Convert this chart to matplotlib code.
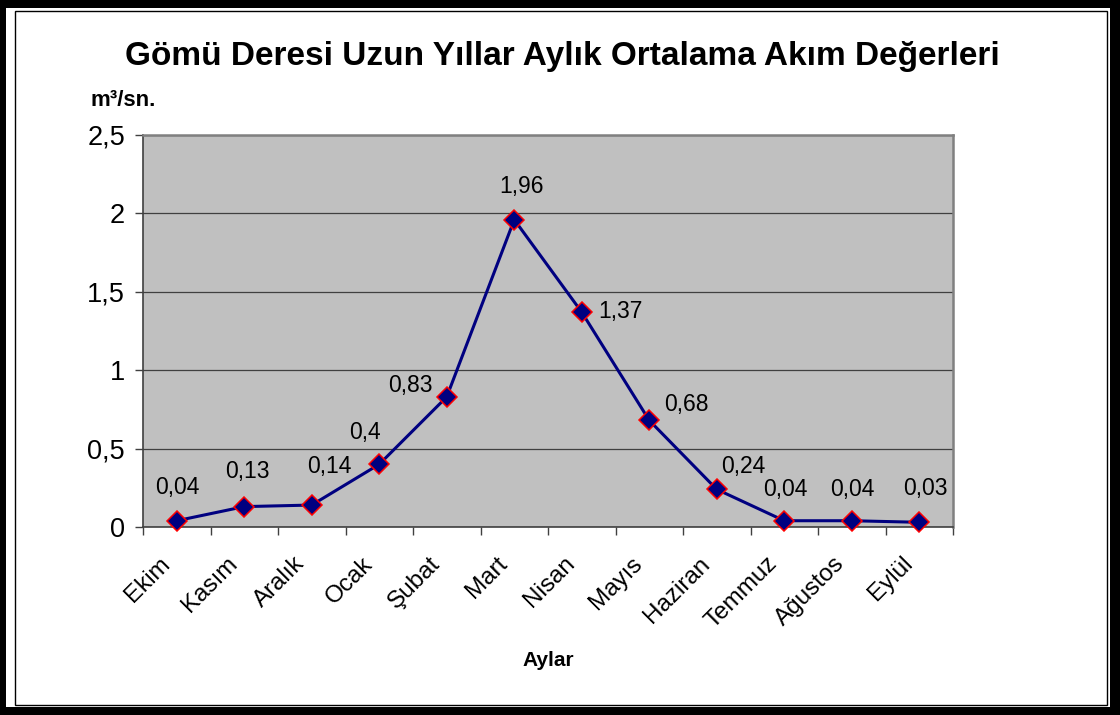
import matplotlib.pyplot as plt
from matplotlib.patches import Rectangle
from matplotlib.ticker import FuncFormatter
from matplotlib.transforms import ScaledTranslation

plt.rcParams['font.family'] = ['Liberation Sans', 'DejaVu Sans']

# data
months = ["Ekim", "Kasım", "Aralık", "Ocak", "Şubat", "Mart",
          "Nisan", "Mayıs", "Haziran", "Temmuz", "Ağustos", "Eylül"]
flow = [0.04, 0.13, 0.14, 0.4, 0.83, 1.96, 1.37, 0.68, 0.24, 0.04, 0.04, 0.03]

# label offsets in pixels (dx, dy) relative to each point
label_offsets = [(1, 33), (3, 35), (18, 39), (-14, 32), (-36, 11), (7, 33),
                 (39, 1), (37, 16), (26, 23), (1, 31), (1, 31), (6, 34)]

W, H = 1120, 715
fig = plt.figure(figsize=(W / 100, H / 100), dpi=100)

# outer frame
fig.patches.append(Rectangle((0, 0), 1, 1, transform=fig.transFigure,
                             facecolor="black", edgecolor="none", zorder=-3))
fig.patches.append(Rectangle((6 / W, 1 - 707 / H), (1110 - 6) / W, (707 - 8) / H,
                             transform=fig.transFigure, facecolor="white",
                             edgecolor="none", zorder=-2))
fig.patches.append(Rectangle((14.5 / W, 1 - 704.5 / H), (1107 - 14.5) / W, (704.5 - 10.5) / H,
                             transform=fig.transFigure, facecolor="none",
                             edgecolor="black", linewidth=1.0, zorder=-1))

ax = fig.add_axes([143 / W, 1 - 527 / H, 810 / W, 392 / H])
ax.set_facecolor("#C0C0C0")

x = list(range(len(months)))
ax.plot(x, flow, color="#000080", linewidth=2.2, marker="D", markersize=10.5,
        markerfacecolor="#000080", markeredgecolor="red", markeredgewidth=1.1,
        zorder=3, clip_on=False)

for xi, v, (dx, dy) in zip(x, flow, label_offsets):
    ax.annotate(f"{v:g}".replace(".", ","), (xi, v), xytext=(dx, dy),
                textcoords="offset pixels", ha="center", va="center",
                fontsize=16.5, color="black")

ax.set_xlim(-0.5, len(months) - 0.5)
ax.set_ylim(0, 2.5)
ax.set_yticks([0, 0.5, 1, 1.5, 2, 2.5])
ax.yaxis.set_major_formatter(FuncFormatter(lambda v, p: f"{v:g}".replace(".", ",")))
ax.grid(axis="y", color="#404040", linewidth=0.9)
ax.set_axisbelow(True)

ax.set_xticks(x)
ax.set_xticklabels(months, rotation=45, ha="right", va="top",
                   rotation_mode="anchor", fontsize=17.5)
ax.set_xticks([i - 0.5 for i in range(len(months) + 1)], minor=True)
ax.tick_params(axis="x", which="major", length=0, pad=12)
ax.tick_params(axis="x", which="minor", length=6, width=1, color="#404040", direction="out")
ax.tick_params(axis="y", length=6, width=1, color="#404040", labelsize=19.5, pad=7)

# nudge rotated month labels down-left
shift = ScaledTranslation(-18 / 100, -9 / 100, fig.dpi_scale_trans)
for lbl in ax.get_xticklabels():
    lbl.set_transform(lbl.get_transform() + shift)

for side in ["left", "bottom"]:
    ax.spines[side].set_color("#404040")
    ax.spines[side].set_linewidth(1.2)
for side in ["top", "right"]:
    ax.spines[side].set_color("#808080")
    ax.spines[side].set_linewidth(1.8)

fig.text(562 / W, 1 - 57 / H, "Gömü Deresi Uzun Yıllar Aylık Ortalama Akım Değerleri",
         ha="center", va="center", fontsize=24, fontweight="bold")
fig.text(90 / W, 1 - 100 / H, "m³/sn.", ha="left", va="center",
         fontsize=16, fontweight="bold")
fig.text(548 / W, 1 - 660 / H, "Aylar", ha="center", va="center",
         fontsize=15, fontweight="bold")

fig.savefig("out.png", dpi=100)
